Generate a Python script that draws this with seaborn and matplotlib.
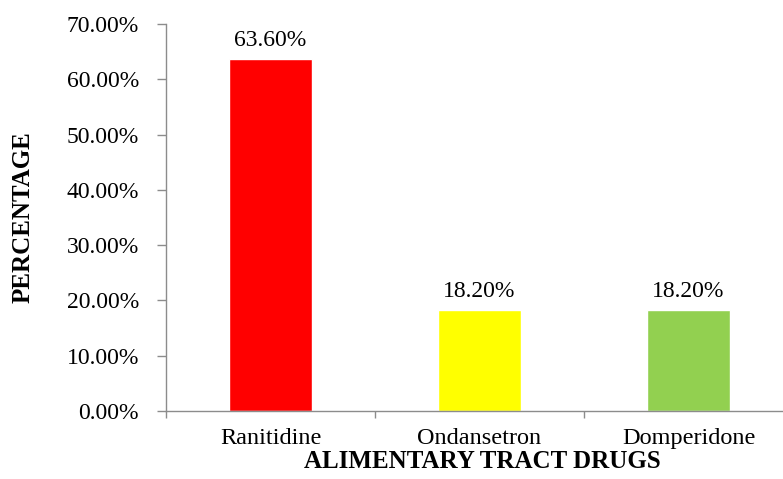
import matplotlib
matplotlib.use("Agg")
import matplotlib.pyplot as plt
import seaborn as sns
import pandas as pd
from matplotlib.ticker import FixedLocator, PercentFormatter

# Share of alimentary tract drug prescriptions
drugs = ["Ranitidine", "Ondansetron", "Domperidone"]
percent = [63.60, 18.20, 18.20]
bar_colors = ["#FF0000", "#FFFF00", "#92D050"]
y_ticks = [0, 10, 20, 30, 40, 50, 60, 70]

df = pd.DataFrame({"drug": drugs, "percent": percent})

sns.set_theme(style="white")
plt.rcParams["font.family"] = ["Liberation Serif", "DejaVu Serif"]

fig = plt.figure(figsize=(7.83, 4.79), dpi=100)
ax = fig.add_axes([166 / 783, 68 / 479, 627 / 783, 387 / 479])

sns.barplot(data=df, x="drug", y="percent", hue="drug",
            palette=bar_colors, width=0.4, legend=False,
            saturation=1, ax=ax)

ax.set_xlim(-0.5, 2.5)
ax.set_ylim(0, 70)

# Spines and ticks
for side in ["top", "right"]:
    ax.spines[side].set_visible(False)
for side in ["left", "bottom"]:
    ax.spines[side].set_color("#8c8c8c")
    ax.spines[side].set_linewidth(1.0)

ax.yaxis.set_major_locator(FixedLocator(y_ticks))
ax.yaxis.set_major_formatter(PercentFormatter(decimals=2))
ax.tick_params(axis="y", which="major", direction="out", length=6.5,
               width=1.0, color="#8c8c8c", pad=13, labelsize=17,
               labelcolor="black", left=True)

# Category separators as major ticks, names on minor ticks
ax.xaxis.set_major_locator(FixedLocator([-0.5, 0.5, 1.5, 2.5]))
ax.set_xticklabels([""] * 4)
ax.xaxis.set_minor_locator(FixedLocator(range(len(drugs))))
ax.set_xticklabels(drugs, minor=True)
ax.tick_params(axis="x", which="major", direction="out", length=5,
               width=1.0, color="#8c8c8c", bottom=True)
ax.tick_params(axis="x", which="minor", length=0, pad=12,
               labelsize=17.5, labelcolor="black")

# Value labels above bars
for i, v in enumerate(percent):
    ax.annotate(f"{v:.2f}%", xy=(i, v), xytext=(0, 9.5),
                textcoords="offset points", ha="center", va="baseline",
                fontsize=17, color="black")

ax.set_xlabel("ALIMENTARY TRACT DRUGS", fontsize=18, fontweight="bold",
              color="black")
ax.xaxis.label.set_va("baseline")
ax.xaxis.set_label_coords(0.5048, -57 / 387)

ax.set_ylabel("PERCENTAGE", fontsize=18, fontweight="bold", color="black")
ax.yaxis.label.set_va("center")
ax.yaxis.set_label_coords(-143 / 627, 0.5)

fig.savefig("out.png", dpi=100)
